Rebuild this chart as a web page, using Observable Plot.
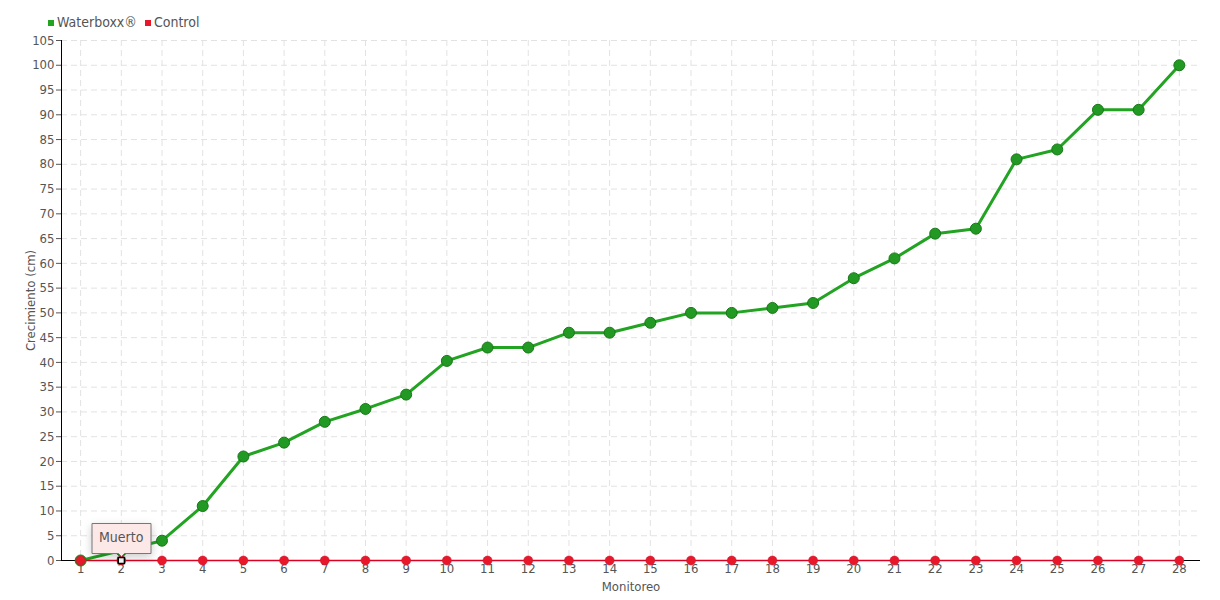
<!DOCTYPE html>
<html><head><meta charset="utf-8">
<script src="https://cdn.jsdelivr.net/npm/d3@7"></script>
<script src="https://cdn.jsdelivr.net/npm/@observablehq/plot@0.6"></script>
<style>
body{margin:0;background:#fff;font-family:"Liberation Sans Narrow","DejaVu Sans Condensed",sans-serif;}
#wrap{position:relative;width:1220px;height:600px;}
#legend{position:absolute;left:48px;top:14px;font-size:14px;color:#555;display:flex;gap:8px;align-items:center;}
#legend span.sw{display:inline-block;width:6px;height:6px;margin-right:3px;vertical-align:middle;}
</style></head>
<body><div id="wrap"><div id="legend"></div><div id="chart"></div></div>
<script>
const monitoreo = [1,2,3,4,5,6,7,8,9,10,11,12,13,14,15,16,17,18,19,20,21,22,23,24,25,26,27,28];
const waterboxx = [0,2,4,11,21,23.8,28,30.6,33.5,40.3,43,43,46,46,48,50,50,51,52,57,61,66,67,81,83,91,91,100];
const control = [0,0,0,0,0,0,0,0,0,0,0,0,0,0,0,0,0,0,0,0,0,0,0,0,0,0,0,0];
const seriesNames = ["Waterboxx®","Control"];
const seriesColors = ["#22a322","#e8182a"];
const yTicks = d3.range(0,106,5);
const tipData = [{x:2,y:0,label:"Muerto"}];

const wData = monitoreo.map((m,i)=>({x:m,y:waterboxx[i]}));
const cData = monitoreo.map((m,i)=>({x:m,y:control[i]}));

document.getElementById("legend").innerHTML = seriesNames.map((n,i)=>
  `<span><span class="sw" style="background:${seriesColors[i]}"></span>${n}</span>`).join("");

const chart = Plot.plot({
  width:1220, height:600,
  marginLeft:61, marginRight:20, marginTop:40, marginBottom:40,
  style:{fontFamily:'"Liberation Sans Narrow","DejaVu Sans Condensed",sans-serif', fontSize:"13px", color:"#555"},
  x:{domain:[0.53,28.52], ticks:monitoreo, tickSize:0, tickPadding:3, tickFormat:d=>d, label:"Monitoreo", labelAnchor:"center", labelArrow:"none", labelOffset:30},
  y:{domain:[0,105], ticks:yTicks, tickSize:5, tickPadding:2, label:"Crecimiento (cm)", labelAnchor:"center", labelArrow:"none", labelOffset:36},
  marks:[
    Plot.gridX(monitoreo,{stroke:"#e2e2e2", strokeOpacity:1, strokeDasharray:"6,4"}),
    Plot.gridY(yTicks,{stroke:"#e2e2e2", strokeOpacity:1, strokeDasharray:"6,4"}),
    Plot.ruleY([0],{stroke:"#000"}),
    Plot.ruleX([0.53],{stroke:"#000"}),
    Plot.line(wData,{x:"x",y:"y",stroke:seriesColors[0],strokeWidth:3}),
    Plot.line(cData,{x:"x",y:"y",stroke:"#dd0022",strokeWidth:1.5}),
    Plot.dot(wData,{x:"x",y:"y",r:5.5,fill:"#229922",stroke:"#187818",strokeWidth:1}),
    Plot.dot(cData,{x:"x",y:"y",r:4.5,fill:seriesColors[1],stroke:"#c8102a",strokeWidth:0.5}),
    Plot.dot(tipData,{x:"x",y:"y",symbol:"square",r:3.5,fill:"#fff",stroke:"#000",strokeWidth:1.5}),
    Plot.tip(tipData,{x:"x",y:"y",title:"label",anchor:"bottom",dy:-4,fill:"#fde8e8",stroke:"#777",fontSize:14,textPadding:7,pointerSize:6})
  ]
});
document.getElementById("chart").appendChild(chart);
</script></body></html>
